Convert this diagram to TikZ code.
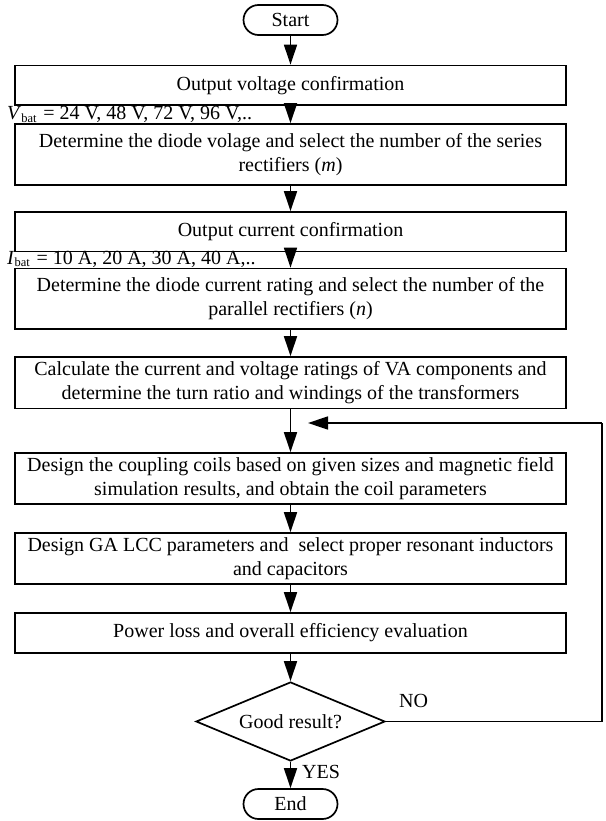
\documentclass[tikz,border=0pt]{standalone}
\usepackage{fontspec}
\setmainfont{Liberation Serif}
\usetikzlibrary{arrows.meta,shapes.geometric}
\newcommand\lowsub[1]{\raisebox{-0.3ex}{\fontsize{12.5}{13}\selectfont #1}}
\begin{document}
\begin{tikzpicture}[x=1pt,y=-1pt,
  every node/.style={font=\fontsize{20}{24}\selectfont},
  procbox/.style={draw,line width=1.7pt,minimum width=551pt,inner sep=0pt,align=center},
  term/.style={draw,line width=1.7pt,rounded corners=15pt,minimum width=94pt,minimum height=30pt,inner sep=0pt},
  decide/.style={draw,line width=1.7pt,diamond,aspect=2.39,minimum width=189pt,minimum height=79pt,inner sep=0pt},
  arr/.style={line width=1.7pt,-{Triangle[length=20pt,width=13pt]}},
  lbl/.style={inner sep=0pt}]
\useasboundingbox (0,0) rectangle (605,821);
\node[term] (start) at (290.5,20) {Start};
\node[procbox,minimum height=39.5pt] (b1) at (290.5,85.25) {Output voltage confirmation};
\node[procbox,minimum height=61pt] (b2) at (290.5,154.5) {Determine the diode volage and select the number of the series\\rectifiers (\textit{m})};
\node[procbox,minimum height=39.5pt] (b3) at (290.5,231.75) {Output current confirmation};
\node[procbox,minimum height=60.5pt] (b4) at (290.5,298.75) {Determine the diode current rating and select the number of the\\parallel rectifiers (\textit{n})};
\node[procbox,minimum height=51.5pt] (b5) at (290.5,382.75) {Calculate the current and voltage ratings of VA components and\\determine the turn ratio and windings of the transformers};
\node[procbox,minimum height=51pt] (b6) at (290.5,478.5) {Design the coupling coils based on given sizes and magnetic field\\simulation results, and obtain the coil parameters};
\node[procbox,minimum height=51pt] (b7) at (290.5,558.5) {Design GA LCC parameters and\ \ select proper resonant inductors\\and capacitors};
\node[procbox,minimum height=40pt] (b8) at (290.5,633) {Power loss and overall efficiency evaluation};
\node[decide] (dec) at (290.5,721.5) {Good result?};
\node[term] (end) at (290.5,804) {End};
\node[lbl,anchor=base west] (vlab) at (7,119.5) {\textit{V}\lowsub{bat}\,\,= 24 V, 48 V, 72 V, 96 V,..};
\node[lbl,anchor=base west] (ilab) at (7,264) {\textit{I}\lowsub{bat}\,\,= 10 A, 20 A, 30 A, 40 A,..};
\node[lbl] (no) at (413.5,701) {NO};
\node[lbl,anchor=west] (yes) at (302,772) {YES};
\coordinate (rc) at (602,423);
\coordinate (lp) at (308,423);
\draw[arr] (start) -- (b1);
\draw[arr] (b1) -- (b2);
\draw[arr] (b2) -- (b3);
\draw[arr] (b3) -- (b4);
\draw[arr] (b4) -- (b5);
\draw[arr] (b5) -- (b6);
\draw[arr] (b6) -- (b7);
\draw[arr] (b7) -- (b8);
\draw[arr] (b8) -- (dec);
\draw[arr] (dec) -- (end);
\draw[line width=1.5pt] (dec.east) -| (rc);
\draw[line width=1.5pt,-{Triangle[length=20pt,width=13pt]}] (rc) -- (lp);
\end{tikzpicture}
\end{document}
